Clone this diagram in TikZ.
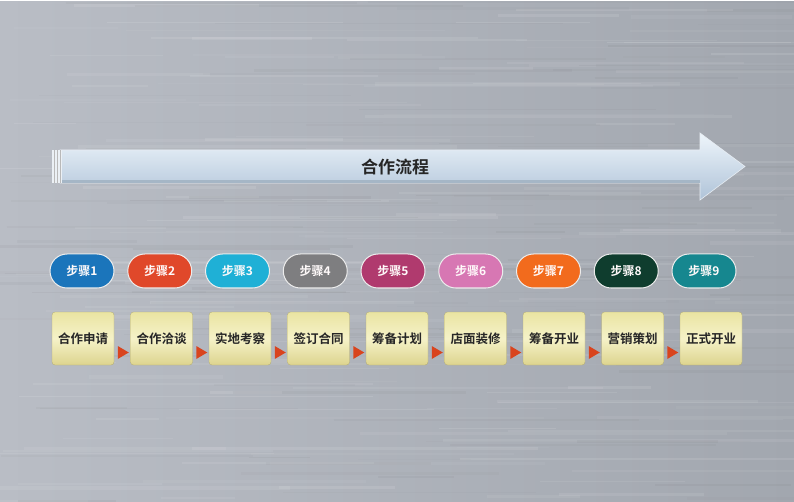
\documentclass[tikz,border=0pt]{standalone}
\usepackage{fontspec}
\setmainfont{Noto Sans CJK SC}[BoldFont={Noto Sans CJK SC Bold}]
\usetikzlibrary{calc}
\definecolor{bgL}{HTML}{B9BDC5}
\definecolor{bgR}{HTML}{A2A7AF}
\definecolor{arrTop}{HTML}{EEF5FB}
\definecolor{arrBot}{HTML}{AFC3D8}
\definecolor{boxTop}{HTML}{EAE4A2}
\definecolor{boxMid}{HTML}{F5F2C8}
\definecolor{boxBot}{HTML}{DDD48E}
\definecolor{triC}{HTML}{D9441E}
\definecolor{c1}{HTML}{1B75BB}
\definecolor{c2}{HTML}{E0482A}
\definecolor{c3}{HTML}{1FB0D6}
\definecolor{c4}{HTML}{7E7E80}
\definecolor{c5}{HTML}{B03A6E}
\definecolor{c6}{HTML}{D777B3}
\definecolor{c7}{HTML}{F26B1D}
\definecolor{c8}{HTML}{0F3D2E}
\definecolor{c9}{HTML}{16878F}
\begin{document}
\begin{tikzpicture}[x=1pt,y=-1pt,
  pill/.style={rounded corners=17pt, minimum width=64pt, minimum height=34pt,
    draw=white!85!gray, line width=1pt, text=white!92!pink, font=\fontsize{12}{12}\selectfont\bfseries, inner sep=0pt},
  box/.style={rounded corners=3pt, minimum width=62pt, minimum height=53pt, inner sep=0pt,
    top color=boxTop, bottom color=boxBot, middle color=boxMid, draw=boxBot!80!black, line width=0.3pt,
    text=black!85, font=\fontsize{12.5}{12.5}\selectfont\bfseries},
  title/.style={text=black!85, font=\fontsize{17}{17}\selectfont\bfseries, inner sep=0pt},
  tri/.style={fill=triC}]
\useasboundingbox (0,0) rectangle (794,502);
\shade[left color=bgL, right color=bgR] (0,0) rectangle (794,502);
\pgfmathsetseed{7}
\foreach \k in {1,...,160}{
  \pgfmathsetmacro\yy{rnd*502}
  \pgfmathsetmacro\xa{rnd*760-40}
  \pgfmathsetmacro\len{60+rnd*320}
  \pgfmathsetmacro\op{0.03+rnd*0.08}
  \pgfmathsetmacro\wd{0.5+rnd*3}
  \draw[white, opacity=\op, line width=\wd pt] (\xa,\yy) -- ++(\len,0);
}
\foreach \k in {1,...,100}{
  \pgfmathsetmacro\yy{rnd*502}
  \pgfmathsetmacro\xa{rnd*760-40}
  \pgfmathsetmacro\len{60+rnd*320}
  \pgfmathsetmacro\op{0.02+rnd*0.06}
  \pgfmathsetmacro\wd{0.5+rnd*2.5}
  \draw[black!60, opacity=\op, line width=\wd pt] (\xa,\yy) -- ++(\len,0);
}
\draw[white, line width=1.5pt] (0,0.75) -- (794,0.75);
% big arrow
\shade[top color=arrTop, bottom color=arrBot, draw=white!70!arrBot, line width=0.6pt]
  (60,150) -- (700,150) -- (700,133) -- (745,166.5) -- (700,200) -- (700,183) -- (60,183) -- cycle;
\fill[arrBot!80!gray] (60,180) -- (700,180) -- (700,183) -- (60,183) -- cycle;
\fill[white!75!arrBot] (52,150) rectangle (62,183);
\foreach \xx in {54,57,60}{\draw[gray!55, line width=0.6pt] (\xx,150) -- (\xx,183);}
\node[title] (title) at (395,167) {合作流程};
% steps
\foreach \i in {1,...,9}{
  \node[pill, fill=c\i] (p\i) at ({82+77.75*(\i-1)},271) {步骤\i};
}
\foreach \i/\t in {1/合作申请,2/合作洽谈,3/实地考察,4/签订合同,5/筹备计划,6/店面装修,7/筹备开业,8/营销策划,9/正式开业}{
  \node[box] (b\i) at ({83+78.5*(\i-1)},338.5) {\t};
}
\foreach \i [evaluate=\i as \j using int(\i+1)] in {1,...,8}{
  \fill[tri] ($(b\i.east)!0.5!(b\j.west)+(-4.5,7.5)$) -- ++(11,6.5) -- ++(-11,6.5) -- cycle;
}
\end{tikzpicture}
\end{document}
